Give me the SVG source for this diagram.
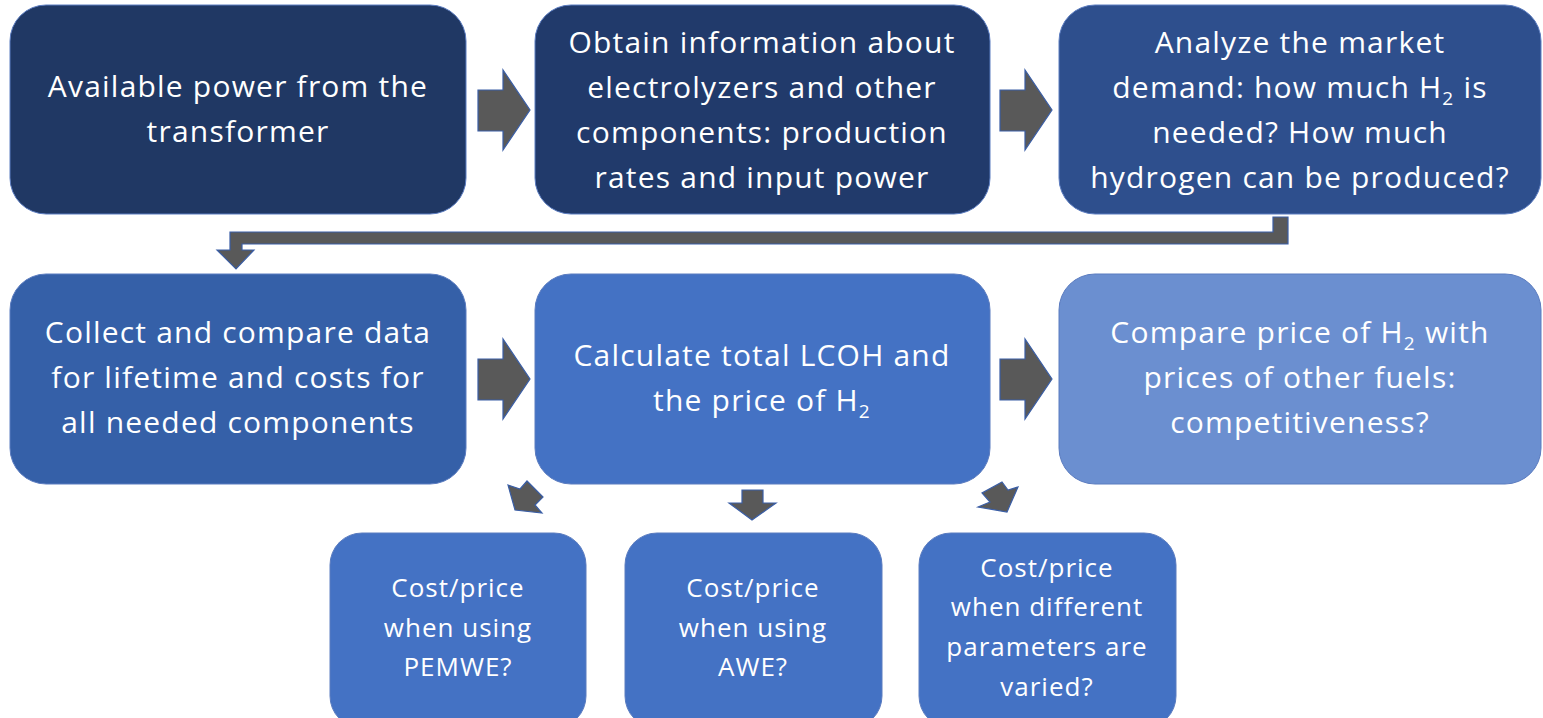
<svg xmlns="http://www.w3.org/2000/svg" width="1543" height="718" viewBox="0 0 1543 718">
<style>
.box{stroke:#5b7cc0;stroke-width:1}
.t{font-family:"Open Sans","Noto Sans",sans-serif;fill:#ffffff;text-anchor:middle;font-size:30px;letter-spacing:1.2px}
.s{font-family:"Open Sans","Noto Sans",sans-serif;fill:#ffffff;text-anchor:middle;font-size:26px;letter-spacing:1px}
.arr{fill:#595959;stroke:#3a5ea6;stroke-width:1.2;stroke-linejoin:miter}
</style>
<rect width="1543" height="718" fill="#ffffff"/>
<g id="n1"><rect class="box" x="10" y="5" width="456" height="209" rx="36" fill="#203864"/>
<text class="t" x="238" y="97">Available power from the</text>
<text class="t" x="238" y="142">transformer</text></g>
<g id="n2"><rect class="box" x="535" y="5" width="455" height="209" rx="36" fill="#213a6b"/>
<text class="t" x="762" y="53">Obtain information about</text>
<text class="t" x="762" y="98">electrolyzers and other</text>
<text class="t" x="762" y="143">components: production</text>
<text class="t" x="762" y="188">rates and input power</text></g>
<g id="n3"><rect class="box" x="1059" y="5" width="482" height="209" rx="36" fill="#2e4f8d"/>
<text class="t" x="1300" y="53">Analyze the market</text>
<text class="t" x="1300" y="98">demand: how much H<tspan font-size="19" dy="7">2</tspan><tspan dy="-7"> is</tspan></text>
<text class="t" x="1300" y="143">needed? How much</text>
<text class="t" x="1300" y="188">hydrogen can be produced?</text></g>
<g id="n4"><rect class="box" x="10" y="274" width="456" height="210" rx="36" fill="#3560a8"/>
<text class="t" x="238" y="343">Collect and compare data</text>
<text class="t" x="238" y="388">for lifetime and costs for</text>
<text class="t" x="238" y="433">all needed components</text></g>
<g id="n5"><rect class="box" x="535" y="274" width="455" height="210" rx="36" fill="#4472c4"/>
<text class="t" x="762" y="366">Calculate total LCOH and</text>
<text class="t" x="762" y="411">the price of H<tspan font-size="19" dy="7">2</tspan></text></g>
<g id="n6"><rect class="box" x="1059" y="274" width="482" height="210" rx="36" fill="#6b8fd0"/>
<text class="t" x="1300" y="343">Compare price of H<tspan font-size="19" dy="7">2</tspan><tspan dy="-7"> with</tspan></text>
<text class="t" x="1300" y="388">prices of other fuels:</text>
<text class="t" x="1300" y="433">competitiveness?</text></g>
<g id="n7"><rect class="box" x="330" y="533" width="256" height="195" rx="32" fill="#4472c4"/>
<text class="s" x="458" y="597">Cost/price</text>
<text class="s" x="458" y="637">when using</text>
<text class="s" x="458" y="676">PEMWE?</text></g>
<g id="n8"><rect class="box" x="625" y="533" width="257" height="195" rx="32" fill="#4472c4"/>
<text class="s" x="753" y="597">Cost/price</text>
<text class="s" x="753" y="637">when using</text>
<text class="s" x="753" y="676">AWE?</text></g>
<g id="n9"><rect class="box" x="919" y="533" width="257" height="195" rx="32" fill="#4472c4"/>
<text class="s" x="1047" y="577">Cost/price</text>
<text class="s" x="1047" y="616">when different</text>
<text class="s" x="1047" y="656">parameters are</text>
<text class="s" x="1047" y="696">varied?</text></g>
<g id="connectors">
<polygon class="arr" points="478,90 503,90 503,70 530,110 503,150 503,131 478,131"/>
<polygon class="arr" points="1000,90 1025,90 1025,70 1052,110 1025,150 1025,131 1000,131"/>
<polygon class="arr" points="478,359 503,359 503,339 530,379 503,419 503,400 478,400"/>
<polygon class="arr" points="1000,359 1025,359 1025,339 1052,379 1025,419 1025,400 1000,400"/>
<polygon class="arr" points="1273,217 1288,217 1288,244 242,244 242,250 254,250 236,269 217,250 230,250 230,232 1273,232"/>
<polygon class="arr" points="742,490 763,490 763,503 776,503 752,520 729,503 742,503"/>
<polygon class="arr" points="508,485 520,489 527,481 543,497 535,505 542,513 515,510"/>
<polygon class="arr" points="978,507 990,502 982,493 1002,482 1008,490 1018,487 1007,512"/>
</g>
</svg>
